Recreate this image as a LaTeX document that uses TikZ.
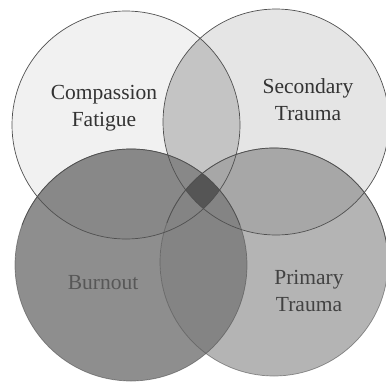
\documentclass[tikz,border=0pt]{standalone}
\usepackage{fontspec}
\setmainfont{Liberation Serif}
\definecolor{cfC}{HTML}{F1F1F1}
\definecolor{stC}{HTML}{E5E5E5}
\definecolor{lensC}{HTML}{C4C4C4}
\definecolor{buC}{HTML}{8E8E8E}
\definecolor{bucfC}{HTML}{888888}
\definecolor{ptC}{HTML}{B4B4B4}
\definecolor{ptstC}{HTML}{A7A7A7}
\definecolor{bpC}{HTML}{848484}
\definecolor{allC}{HTML}{555555}
\definecolor{edgeC}{HTML}{505050}
\tikzset{
  ring/.style={draw=edgeC, line width=0.7pt},
  lbl/.style={font=\fontsize{21.5}{27}\selectfont, align=center, text=black!80},
}
\begin{document}
\begin{tikzpicture}[x=1pt,y=-1pt]
\useasboundingbox (0,0) rectangle (386,384);
\fill[white] (0,0) rectangle (386,384);
\def\CF{(126,125) circle (114)}
\def\ST{(276,122) circle (113)}
\def\BU{(131,265) circle (116)}
\def\PT{(274,262) circle (114)}
% base circles
\fill[cfC] \CF;
\fill[stC] \ST;
\begin{scope}\clip \CF; \fill[lensC] \ST; \end{scope}
\fill[buC] \BU;
\begin{scope}\clip \BU; \fill[bucfC] \CF; \end{scope}
\fill[ptC] \PT;
\begin{scope}\clip \PT; \fill[ptstC] \ST; \end{scope}
\begin{scope}\clip \PT; \fill[bpC] \BU; \end{scope}
\begin{scope}\clip \PT; \clip \BU; \clip \CF; \fill[allC] \ST; \end{scope}
% outlines
\draw[ring] \CF;
\draw[ring] \ST;
\draw[ring, draw opacity=0.6] \BU;
\draw[ring, draw opacity=0.6] \PT;
\draw[ring] (131,265) ++(200:116) arc[start angle=200, end angle=340, radius=116];
\draw[ring] (274,262) ++(200:114) arc[start angle=200, end angle=360, radius=114];
% labels
\node[lbl] (cf) at (104,108) {Compassion\\Fatigue};
\node[lbl] (st) at (308,100) {Secondary\\Trauma};
\node[lbl, text=black!66] (bu) at (103,283) {Burnout};
\node[lbl, text=black!74] (pt) at (309,291) {Primary\\Trauma};
\end{tikzpicture}
\end{document}
